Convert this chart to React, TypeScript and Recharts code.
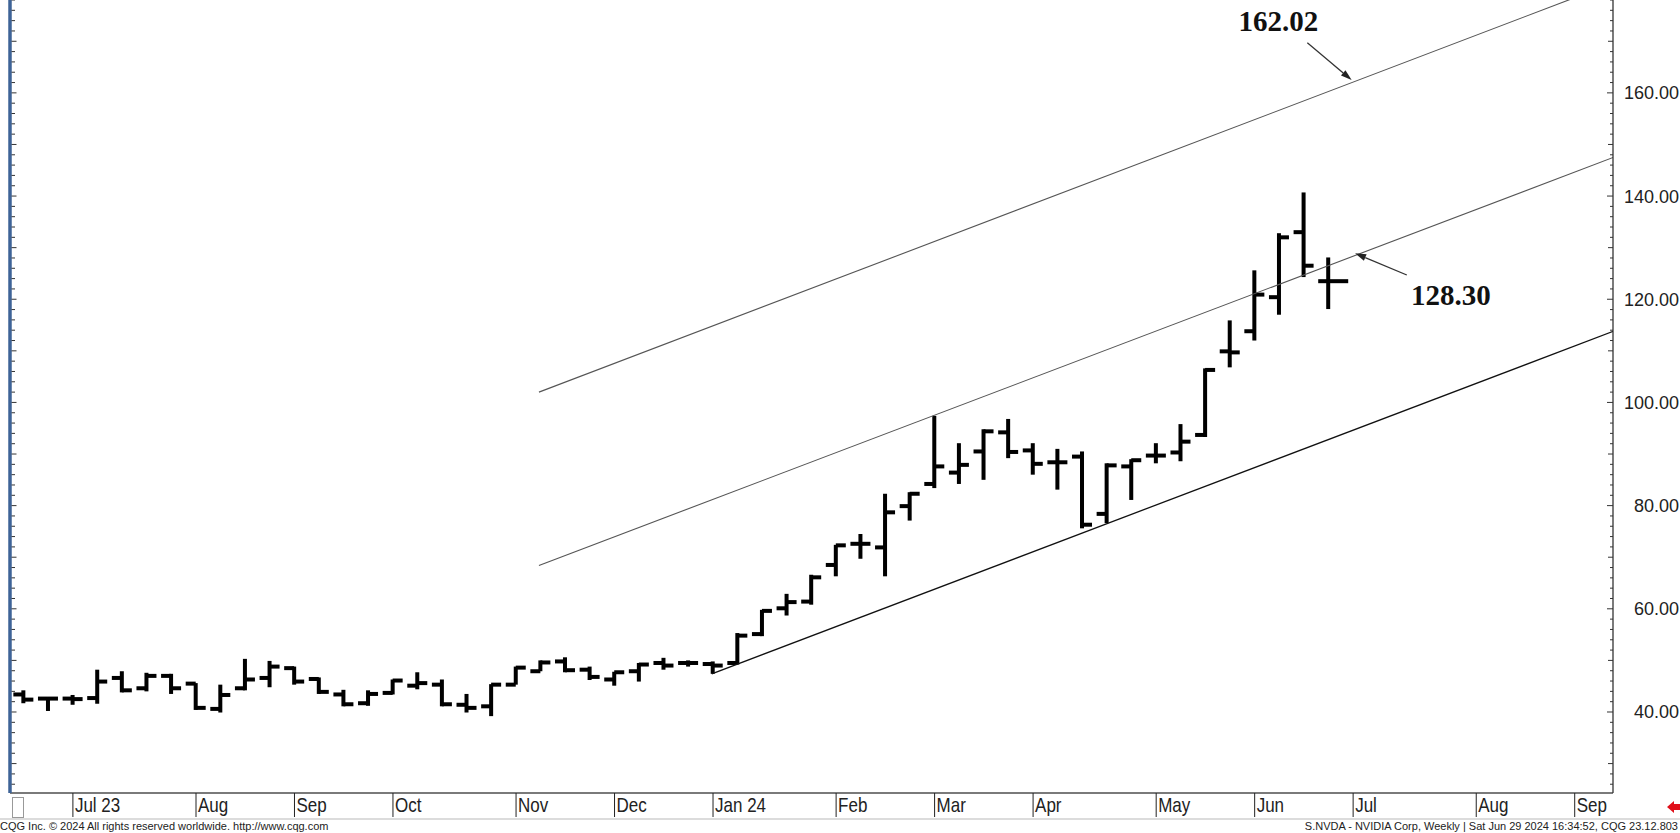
import React from "react";
import {
  ComposedChart,
  Bar,
  XAxis,
  YAxis,
  ReferenceLine,
  ReferenceDot,
} from "recharts";

// weekly bars, index 0 = week of Jul 3 2023
const weeks = [
  -2, -1, 0, 1, 2, 3, 4, 5, 6, 7, 8, 9, 10, 11, 12, 13, 14, 15, 16, 17, 18, 19,
  20, 21, 22, 23, 24, 25, 26, 27, 28, 29, 30, 31, 32, 33, 34, 35, 36, 37, 38,
  39, 40, 41, 42, 43, 44, 45, 46, 47, 48, 49, 50, 51,
];
const opens = [
  43.4, 42.6, 42.6, 42.7, 46.6, 44.6, 47.0, 45.5, 40.6, 44.6, 46.6, 48.5, 46.4,
  43.4, 41.7, 43.7, 45.1, 45.3, 41.4, 41.1, 45.3, 47.9, 49.8, 48.2, 46.3, 47.9,
  49.5, 49.5, 49.3, 49.5, 55.1, 60.1, 61.4, 68.5, 72.6, 71.9, 79.9, 84.2, 86.4,
  90.5, 94.2, 90.7, 88.4, 89.5, 78.4, 87.6, 89.7, 90.3, 93.7, 109.9, 113.8,
  120.4, 133.0, 123.5,
];
const highs = [
  44.2, 42.8, 43.3, 48.2, 47.9, 47.6, 47.4, 45.6, 45.3, 50.3, 49.9, 48.8, 46.7,
  44.3, 44.2, 46.3, 47.7, 46.3, 43.5, 45.4, 48.8, 50.0, 50.6, 48.8, 47.8, 49.5,
  50.5, 50.0, 49.8, 55.3, 59.8, 62.9, 66.6, 72.4, 74.5, 82.3, 82.6, 97.4, 92.1,
  94.8, 96.8, 92.1, 91.0, 90.5, 88.2, 89.0, 92.1, 95.8, 106.6, 115.9, 125.6,
  132.8, 140.7, 128.1,
];
const lows = [
  41.7, 40.2, 41.4, 41.6, 43.8, 44.0, 43.5, 40.4, 39.9, 44.2, 44.8, 45.3, 43.5,
  41.1, 41.2, 43.4, 44.4, 41.1, 39.9, 39.2, 45.3, 47.9, 47.7, 46.2, 45.1, 45.9,
  48.2, 48.8, 47.4, 49.2, 54.7, 58.7, 60.8, 66.3, 69.7, 66.3, 77.1, 83.4, 84.2,
  85.0, 89.2, 86.0, 83.1, 75.6, 76.6, 81.1, 88.2, 88.6, 93.3, 106.8, 112.0,
  117.0, 124.3, 118.1,
];
const closes = [
  42.4, 42.6, 42.5, 45.9, 44.2, 47.0, 44.6, 40.8, 43.3, 46.3, 48.8, 45.9, 43.9,
  41.5, 43.5, 46.1, 45.6, 41.5, 40.8, 45.3, 48.6, 49.6, 48.1, 46.8, 47.7, 49.2,
  49.0, 49.5, 49.0, 54.8, 59.6, 61.3, 66.1, 72.3, 72.6, 78.7, 82.3, 87.6, 87.9,
  94.4, 90.4, 88.1, 88.4, 76.3, 87.8, 88.8, 89.7, 92.4, 106.3, 109.7, 120.9,
  132.0, 126.5, 123.5,
];

const monthTicks = [0, 5, 9, 13, 18, 22, 26, 31, 35, 39, 44, 48, 52, 57, 61];
const monthLabels = [
  "Jul 23", "Aug", "Sep", "Oct", "Nov", "Dec", "Jan 24", "Feb", "Mar", "Apr",
  "May", "Jun", "Jul", "Aug", "Sep",
];
const priceLabels = [40, 60, 80, 100, 120, 140, 160];

// regression channel end points (week index, price)
const channelUpper = [{ x: 18.93, y: 102.0 }, { x: 62.57, y: 181.3 }];
const channelMid = [{ x: 18.93, y: 68.4 }, { x: 62.57, y: 147.5 }];
const channelLower = [{ x: 25.95, y: 47.4 }, { x: 62.57, y: 113.8 }];

const noteTexts = ["162.02", "128.30"];
const noteX = [48.96, 55.97];
const noteY = [171.9, 118.9];
const arrowFrom = [{ x: 50.14, y: 169.7 }, { x: 54.18, y: 124.7 }];
const arrowTo = [{ x: 51.94, y: 162.5 }, { x: 52.08, y: 128.9 }];

const W = 1680;
const H = 833;
const PLOT_LEFT = 10;
const PLOT_RIGHT = 1613;
const PLOT_BOTTOM = 793;
const X_DOMAIN = [-2.555, 62.555];
const Y_DOMAIN = [24.3, 178];

const minorTicks: number[] = [];
for (let v = 26; v <= 178; v += 2) minorTicks.push(v);

const data = weeks.map((w, i) => ({
  week: w,
  range: [lows[i], highs[i]],
  open: opens[i],
  high: highs[i],
  low: lows[i],
  close: closes[i],
  last: i === weeks.length - 1,
}));

const OhlcShape = (props: any) => {
  const { x, y, width, height, payload } = props;
  if (x == null || y == null || !payload) return null;
  const top = Math.min(y, y + height);
  const h = Math.abs(height);
  const cx = x + width / 2;
  const span = payload.high - payload.low;
  const k = span > 0 ? h / span : 0;
  const yo = top + (payload.high - payload.open) * k;
  const yc = top + (payload.high - payload.close) * k;
  const rightLen = payload.last ? 20 : 10;
  return (
    <g fill="#000">
      <rect x={cx - 2} y={top} width={4} height={Math.max(h, 2)} />
      <rect x={cx - 10} y={yo - 2} width={10} height={4} />
      <rect x={cx} y={yc - 2} width={rightLen} height={4} />
    </g>
  );
};

const RightTick = (props: any) => {
  const { y, payload } = props;
  const v = payload.value;
  const len = v % 20 === 0 ? 6 : v % 10 === 0 ? 5 : 3;
  return (
    <g>
      <line x1={PLOT_RIGHT - len} x2={PLOT_RIGHT} y1={y} y2={y} stroke="#333" />
      {priceLabels.includes(v) && (
        <text
          x={1679}
          y={y + 6.5}
          textAnchor="end"
          fontSize={18}
          fill="#222"
          fontFamily="Liberation Sans, Arial, sans-serif"
        >
          {v.toFixed(2)}
        </text>
      )}
    </g>
  );
};

const LeftTick = (props: any) => {
  const { y, payload } = props;
  const v = payload.value;
  const len = v % 10 === 0 ? 5 : 3.5;
  return (
    <line
      x1={PLOT_LEFT + 1.5}
      x2={PLOT_LEFT + 1.5 + len}
      y1={y}
      y2={y}
      stroke="#333"
    />
  );
};

const MonthTick = (props: any) => {
  const { x, payload } = props;
  const idx = monthTicks.indexOf(payload.value);
  return (
    <g>
      <line
        x1={x}
        x2={x}
        y1={PLOT_BOTTOM}
        y2={PLOT_BOTTOM + 24}
        stroke="#222"
        strokeWidth={1}
      />
      <text
        transform={`translate(${x + 2},${PLOT_BOTTOM + 19}) scale(0.85,1)`}
        fontSize={20}
        fill="#222"
        fontFamily="Liberation Sans, Arial, sans-serif"
      >
        {monthLabels[idx]}
      </text>
    </g>
  );
};

const ArrowShape = (props: any) => {
  const { x1, y1, x2, y2 } = props;
  const ang = Math.atan2(y2 - y1, x2 - x1);
  const len = 11;
  const hw = 3.5;
  const bx = x2 - len * Math.cos(ang);
  const by = y2 - len * Math.sin(ang);
  const px = -Math.sin(ang) * hw;
  const py = Math.cos(ang) * hw;
  return (
    <g>
      <line x1={x1} y1={y1} x2={bx} y2={by} stroke="#333" strokeWidth={1.3} />
      <polygon
        points={`${x2},${y2} ${bx + px},${by + py} ${bx - px},${by - py}`}
        fill="#222"
      />
    </g>
  );
};

const noteShape = (text: string) => (props: any) => (
  <text
    x={props.cx}
    y={props.cy}
    textAnchor="middle"
    fontSize={29}
    fontWeight="bold"
    fill="#111"
    fontFamily="Liberation Serif, Times New Roman, serif"
  >
    {text}
  </text>
);

export default function App() {
  return (
    <div
      style={{
        position: "absolute",
        left: 0,
        top: 0,
        width: W,
        height: H,
        background: "#fff",
        overflow: "hidden",
      }}
    >
      <ComposedChart
        width={W}
        height={H}
        data={data}
        margin={{ top: 0, right: 0, bottom: 0, left: 0 }}
      >
        <XAxis
          dataKey="week"
          type="number"
          domain={X_DOMAIN}
          allowDataOverflow
          ticks={monthTicks}
          interval={0}
          tick={MonthTick}
          tickLine={false}
          axisLine={{ stroke: "#7a7a7a", strokeWidth: 2 }}
          height={H - PLOT_BOTTOM}
        />
        <YAxis
          yAxisId="left"
          orientation="left"
          width={PLOT_LEFT}
          type="number"
          domain={Y_DOMAIN}
          allowDataOverflow
          ticks={minorTicks}
          interval={0}
          tick={LeftTick}
          tickLine={false}
          axisLine={{ stroke: "#3e6397", strokeWidth: 3.5 }}
        />
        <YAxis
          yAxisId="right"
          orientation="right"
          width={W - PLOT_RIGHT}
          type="number"
          domain={Y_DOMAIN}
          allowDataOverflow
          ticks={minorTicks}
          interval={0}
          tick={RightTick}
          tickLine={false}
          axisLine={{ stroke: "#333", strokeWidth: 1.3 }}
        />
        <ReferenceLine
          yAxisId="right"
          segment={channelUpper}
          stroke="#555"
          strokeWidth={1.1}
          ifOverflow="hidden"
        />
        <ReferenceLine
          yAxisId="right"
          segment={channelMid}
          stroke="#555"
          strokeWidth={1.1}
          ifOverflow="hidden"
        />
        <ReferenceLine
          yAxisId="right"
          segment={channelLower}
          stroke="#111"
          strokeWidth={1.3}
          ifOverflow="hidden"
        />
        <Bar
          yAxisId="right"
          dataKey="range"
          barSize={20}
          shape={OhlcShape}
          isAnimationActive={false}
        />
        {noteTexts.map((t, i) => (
          <ReferenceLine
            key={"a" + t}
            yAxisId="right"
            segment={[arrowFrom[i], arrowTo[i]]}
            shape={ArrowShape}
            ifOverflow="visible"
          />
        ))}
        {noteTexts.map((t, i) => (
          <ReferenceDot
            key={"n" + t}
            yAxisId="right"
            x={noteX[i]}
            y={noteY[i]}
            r={0}
            shape={noteShape(t)}
            ifOverflow="visible"
          />
        ))}
      </ComposedChart>
      <div
        style={{
          position: "absolute",
          left: 12,
          top: 797,
          width: 10,
          height: 19,
          border: "1px solid #999",
          background: "#fff",
        }}
      />
      <div
        style={{
          position: "absolute",
          left: 0,
          top: 818,
          width: W,
          height: 2,
          background: "#dcdcdc",
        }}
      />
      <div
        style={{
          position: "absolute",
          left: 0,
          top: 820,
          fontSize: 11,
          lineHeight: "13px",
          fontFamily: "Liberation Sans, Arial, sans-serif",
          color: "#222",
          whiteSpace: "nowrap",
        }}
      >
        CQG Inc. © 2024 All rights reserved worldwide. http://www.cqg.com
      </div>
      <div
        style={{
          position: "absolute",
          right: 2,
          top: 820,
          fontSize: 11,
          lineHeight: "13px",
          fontFamily: "Liberation Sans, Arial, sans-serif",
          color: "#222",
          whiteSpace: "nowrap",
        }}
      >
        S.NVDA - NVIDIA Corp, Weekly | Sat Jun 29 2024 16:34:52, CQG 23.12.803
      </div>
      <svg
        style={{ position: "absolute", left: 1666, top: 800 }}
        width={14}
        height={14}
      >
        <polygon points="1,7 8,1 8,4 14,4 14,10 8,10 8,13" fill="#e0101a" />
      </svg>
    </div>
  );
}
